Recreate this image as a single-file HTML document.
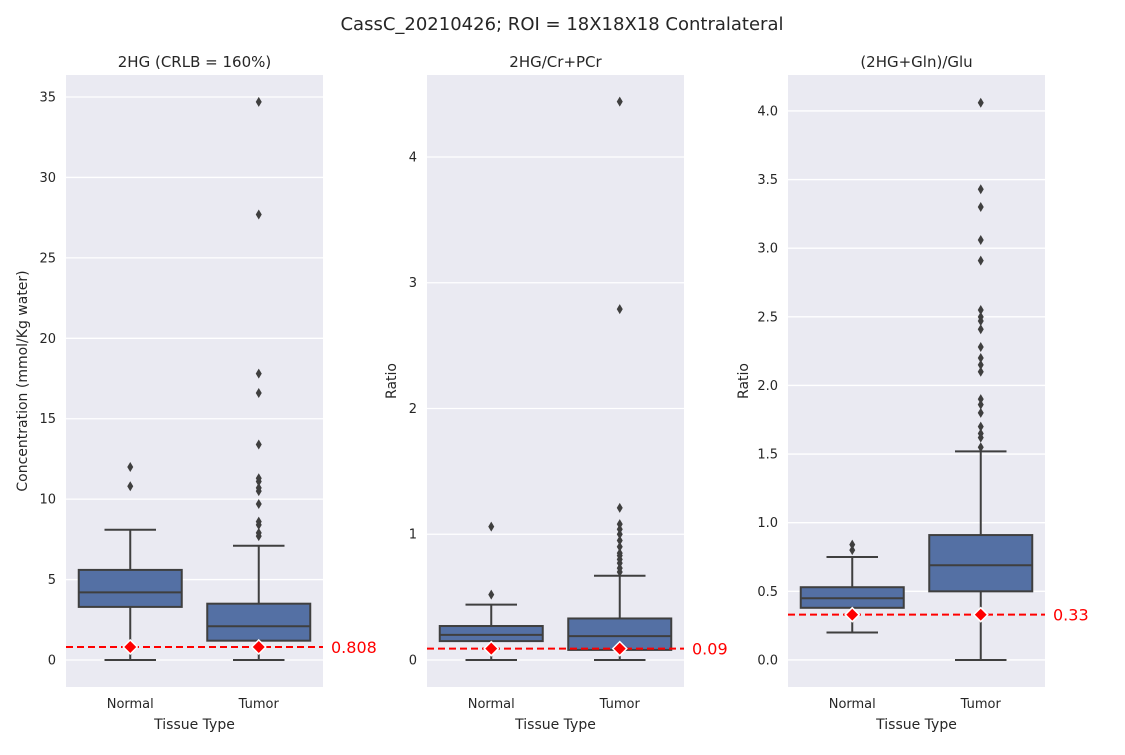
<!DOCTYPE html>
<html><head><meta charset="utf-8"><style>
body{margin:0;background:#fff;font-family:"Liberation Sans","DejaVu Sans",sans-serif}
svg text{font-family:"DejaVu Sans","Liberation Sans",sans-serif}
</style></head><body>
<svg id="chart" width="1125" height="750" xmlns="http://www.w3.org/2000/svg">
<text x="562" y="30" text-anchor="middle" font-size="18" fill="#262626">CassC_20210426; ROI = 18X18X18 Contralateral</text>
</svg>
<script>
const categories=["Normal","Tumor"];
const titles=["2HG (CRLB = 160%)","2HG/Cr+PCr","(2HG+Gln)/Glu"];
const yLabels=["Concentration (mmol/Kg water)","Ratio","Ratio"];
const yRanges=[[-1.68,36.37],[-0.215,4.652],[-0.197,4.262]];
const yTicks=[[0,5,10,15,20,25,30,35],[0,1,2,3,4],[0,0.5,1,1.5,2,2.5,3,3.5,4]];
const tickText=[["0","5","10","15","20","25","30","35"],["0","1","2","3","4"],["0.0","0.5","1.0","1.5","2.0","2.5","3.0","3.5","4.0"]];
// [low, q1, median, q3, high] per category
const boxes1=[[0,3.3,4.2,5.6,8.1],[0,1.2,2.1,3.5,7.1]];
const boxes2=[[0,0.15,0.2,0.27,0.44],[0,0.08,0.19,0.33,0.67]];
const boxes3=[[0.2,0.38,0.45,0.53,0.75],[0,0.5,0.69,0.91,1.52]];
const outliers1=[[10.8,12.0],[7.7,7.9,8.4,8.6,9.7,10.5,10.7,11.1,11.3,13.4,16.6,17.8,27.7,34.7]];
const outliers2=[[0.52,1.06],[0.7,0.73,0.77,0.8,0.83,0.85,0.9,0.95,1.0,1.04,1.08,1.21,2.79,4.44]];
const outliers3=[[0.8,0.84],[1.55,1.62,1.65,1.7,1.8,1.86,1.9,2.1,2.15,2.2,2.28,2.41,2.47,2.5,2.55,2.91,3.06,3.3,3.43,4.06]];
const refValues=[0.808,0.09,0.33];
const refLabels=["0.808","0.09","0.33"];
const allBoxes=[boxes1,boxes2,boxes3];
const allOut=[outliers1,outliers2,outliers3];
const lefts=[66,427,788];
const yTitleOffsets=[39,31,40];
const NS="http://www.w3.org/2000/svg";
const svg=document.getElementById('chart');
function mk(t,a,p){const e=document.createElementNS(NS,t);for(const k in a)e.setAttribute(k,a[k]);(p||svg).appendChild(e);return e;}
const topY=75,bot=687,W=257;
for(let p=0;p<3;p++){
  const L=lefts[p],[y0,y1]=yRanges[p];
  const y=v=>bot-(v-y0)/(y1-y0)*(bot-topY);
  const x=i=>L+W*(i+0.5)/2;
  const g=mk('g',{});
  
  
  const bg=mk('rect',{x:L,y:topY,width:W,height:bot-topY,fill:'#eaeaf2'},g);
  
  
  yTicks[p].forEach((t,i)=>{
    mk('line',{x1:L,x2:L+W,y1:y(t),y2:y(t),stroke:'#fff','stroke-width':1.3},g);
    const tt=mk('text',{x:L-10,y:y(t)+4.5,'text-anchor':'end','font-size':13,fill:'#262626'},g);
    tt.textContent=tickText[p][i];
    
    
  });
  const tl=mk('text',{x:L+W/2,y:67,'text-anchor':'middle','font-size':15,fill:'#262626'},g);
  tl.textContent=titles[p];
  
  
  const yl=mk('text',{x:0,y:0,'text-anchor':'middle','font-size':14,fill:'#262626',transform:`translate(${L-yTitleOffsets[p]},${(topY+bot)/2}) rotate(-90)`},g);
  yl.textContent=yLabels[p];
  
  
  const xl=mk('text',{x:L+W/2,y:729,'text-anchor':'middle','font-size':14,fill:'#262626'},g);
  xl.textContent='Tissue Type';
  
  
  categories.forEach((c,i)=>{
    const cx=x(i),b=allBoxes[p][i],hw=51.5;
    const ct=mk('text',{x:cx,y:708,'text-anchor':'middle','font-size':13,fill:'#262626'},g);
    ct.textContent=c;
    
    
    const st={stroke:'#3f3f3f','stroke-width':2};
    mk('line',Object.assign({x1:cx,x2:cx,y1:y(b[0]),y2:y(b[1])},st),g);
    mk('line',Object.assign({x1:cx,x2:cx,y1:y(b[3]),y2:y(b[4])},st),g);
    mk('line',Object.assign({x1:cx-hw/2,x2:cx+hw/2,y1:y(b[0]),y2:y(b[0])},st),g);
    mk('line',Object.assign({x1:cx-hw/2,x2:cx+hw/2,y1:y(b[4]),y2:y(b[4])},st),g);
    const r=mk('rect',Object.assign({x:cx-hw,y:y(b[3]),width:2*hw,height:y(b[1])-y(b[3]),fill:'#5470a4'},st),g);
    
    
    mk('line',Object.assign({x1:cx-hw,x2:cx+hw,y1:y(b[2]),y2:y(b[2])},st),g);
    allOut[p][i].forEach(v=>{
      const d=mk('path',{d:`M${cx},${y(v)-5}L${cx+3},${y(v)}L${cx},${y(v)+5}L${cx-3},${y(v)}Z`,fill:'#3f3f3f'},g);
      
      
    });
  });
  const ry=y(refValues[p]);
  const rl=mk('line',{x1:L,x2:L+W,y1:ry,y2:ry,stroke:'#ff0000','stroke-width':2,'stroke-dasharray':'7,4'},g);
  
  
  categories.forEach((c,i)=>{
    const cx=x(i);
    const d=mk('path',{d:`M${cx},${ry-7}L${cx+7},${ry}L${cx},${ry+7}L${cx-7},${ry}Z`,fill:'#ff0000',stroke:'#fff','stroke-width':1.5},g);
    
    
  });
  const rt=mk('text',{x:L+W+8,y:ry+6,'font-size':16,fill:'#ff0000'},g);
  rt.textContent=refLabels[p];
  
  
}
</script>
</body></html>
